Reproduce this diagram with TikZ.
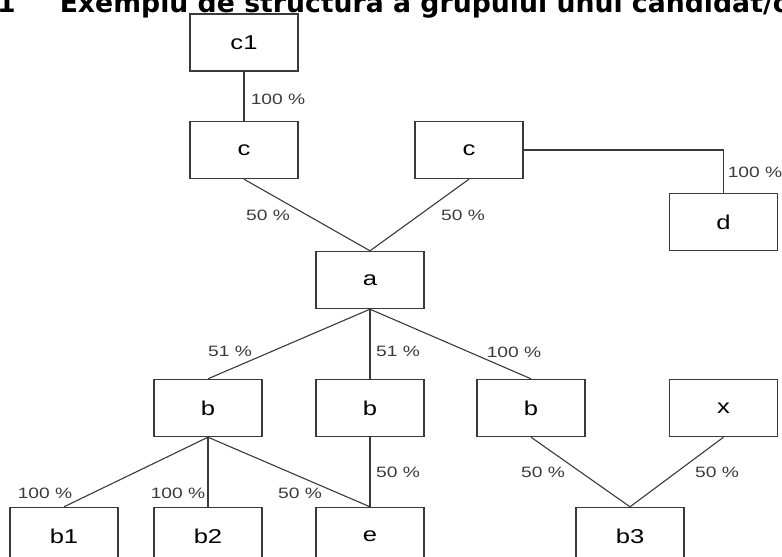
\documentclass[tikz,border=0pt]{standalone}
\usepackage{fontspec}
\usepackage{tikz}
\usepackage{xcolor}
\newfontfamily\boxfont[FakeStretch=1.28]{Liberation Sans}
\newfontfamily\headfont{DejaVu Sans}
\definecolor{linegray}{HTML}{3A3A3A}
\tikzset{
    group-box/.style = {draw=linegray, fill=white, line width=1.4pt, rectangle, minimum width=108pt, minimum height=57pt, inner sep=0pt, font=\boxfont\fontsize{20}{20}\selectfont},
    share-label/.style = {text=linegray, inner sep=0pt, font=\boxfont\fontsize{15}{15}\selectfont},
    link/.style = {draw=linegray, line width=1.1pt},
}

\begin{document}
\begin{tikzpicture}[x=1pt, y=-1pt]
\clip (0,0) rectangle (782,557);
\fill[white] (0,0) rectangle (782,557);
\node[anchor=base west, inner sep=0pt, font=\headfont\bfseries\fontsize{26.7}{26.7}\selectfont] (title) at (-3,12.5) {1\hspace{44pt}Exemplu de structură a grupului unui candidat/ofertant};
% shareholders above a
\node [group-box] (c1) at (244,42.5) {c1};
\node [group-box] (cleft) at (244,150) {c};
\node [group-box] (cright) at (469,150) {c};
\node [group-box] (d) at (723.5,222) {d};
\node [group-box] (a) at (370,280) {a};
% subsidiaries
\node [group-box] (bleft) at (208,408) {b};
\node [group-box] (bmid) at (370,408) {b};
\node [group-box] (bright) at (531,408) {b};
\node [group-box] (x) at (723.5,408) {x};
\node [group-box] (b1) at (64,536) {b1};
\node [group-box] (b2) at (208,536) {b2};
\node [group-box] (e) at (370,536) {e};
\node [group-box] (b3) at (630,536) {b3};
% links
\draw [link] (c1.south) -- (cleft.north);
\draw [link] (cleft.south) -- (a.north);
\draw [link] (cright.south) -- (a.north);
\draw [link] (cright.east) -| (d.north);
\draw [link] (a.south) -- (bleft.north);
\draw [link] (a.south) -- (bmid.north);
\draw [link] (a.south) -- (bright.north);
\draw [link] (bleft.south) -- (b1.north);
\draw [link] (bleft.south) -- (b2.north);
\draw [link] (bleft.south) -- (e.north);
\draw [link] (bmid.south) -- (e.north);
\draw [link] (bright.south) -- (b3.north);
\draw [link] (x.south) -- (b3.north);
% percentages
\node [share-label] (p-c1) at (278,99) {100 \%};
\node [share-label] (p-cleft) at (268,215) {50 \%};
\node [share-label] (p-cright) at (463,215) {50 \%};
\node [share-label] (p-d) at (755,172) {100 \%};
\node [share-label] (p-bleft) at (230,351) {51 \%};
\node [share-label] (p-bmid) at (398,351) {51 \%};
\node [share-label] (p-bright) at (514,352) {100 \%};
\node [share-label] (p-b1) at (45,493) {100 \%};
\node [share-label] (p-b2) at (178,493) {100 \%};
\node [share-label] (p-e1) at (300,493) {50 \%};
\node [share-label] (p-e2) at (398,472) {50 \%};
\node [share-label] (p-b3l) at (543,472) {50 \%};
\node [share-label] (p-b3r) at (717,472) {50 \%};
\end{tikzpicture}
\end{document}
